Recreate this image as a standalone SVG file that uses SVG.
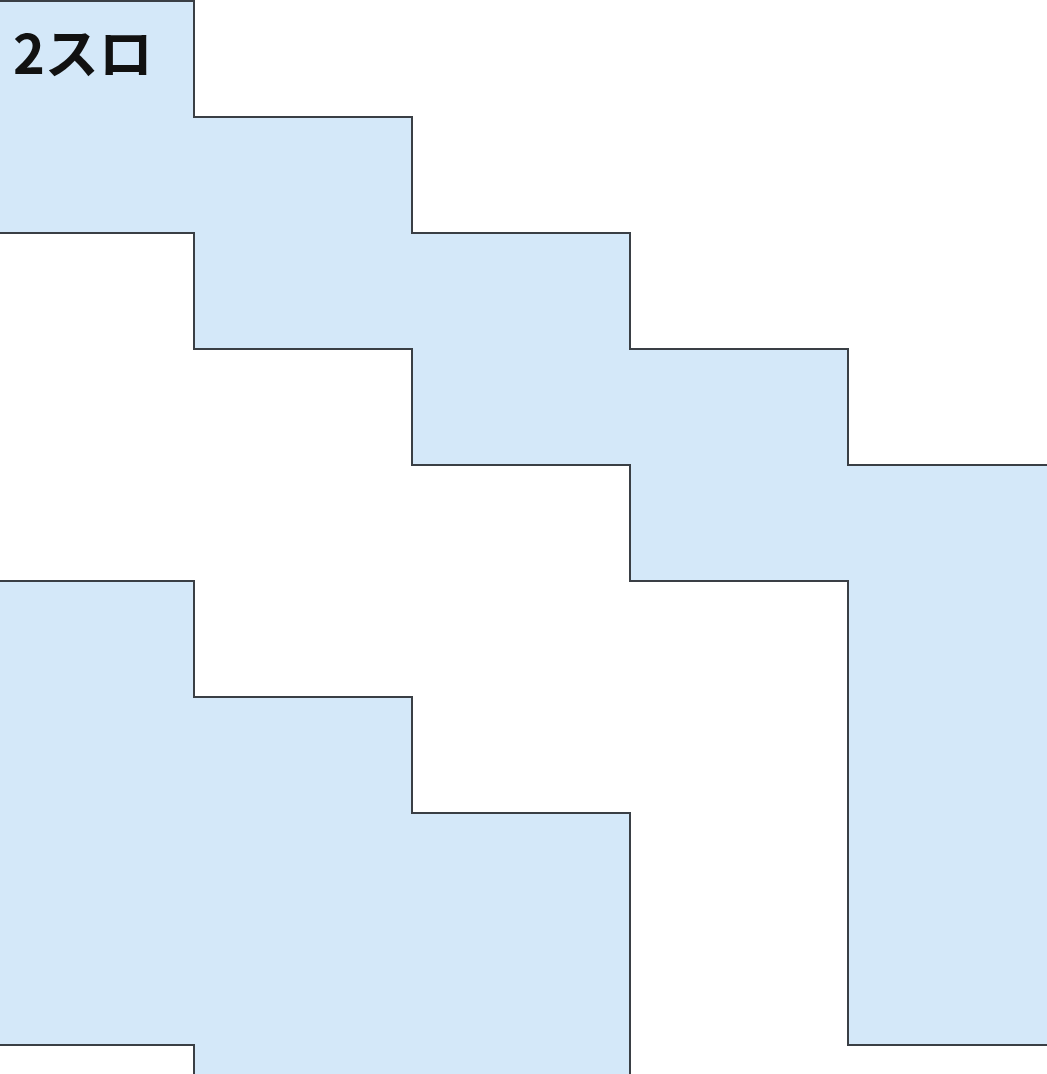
<svg xmlns="http://www.w3.org/2000/svg" width="1047" height="1074" viewBox="0 0 1047 1074">
<style>
.area{fill:#d4e8f9;stroke:none}
.edge{fill:none;stroke:#3a3f45;stroke-width:2;stroke-linejoin:miter}
.lbl{font-family:"Noto Sans CJK JP","Noto Sans",sans-serif;font-weight:bold;font-size:54px;fill:#111}
</style>
<rect width="1047" height="1074" fill="#ffffff"/>
<g id="upper-band">
<path class="area" d="M0,1 H194 V117 H412 V233 H630 V349 H848 V465 H1047 V1045 H848 V581 H630 V465 H412 V349 H194 V233 H0 Z"/>
<path class="edge" d="M0,1 H194 V117 H412 V233 H630 V349 H848 V465 H1047"/>
<path class="edge" d="M0,233 H194 V349 H412 V465 H630 V581 H848 V1045 H1047"/>
</g>
<g id="lower-band">
<path class="area" d="M0,581 H194 V697 H412 V813 H630 V1074 H194 V1045 H0 Z"/>
<path class="edge" d="M0,581 H194 V697 H412 V813 H630 V1074"/>
<path class="edge" d="M0,1045 H194 V1074"/>
</g>
<g id="label">
<text class="lbl" x="13" y="74">2スロ</text>
</g>
</svg>
